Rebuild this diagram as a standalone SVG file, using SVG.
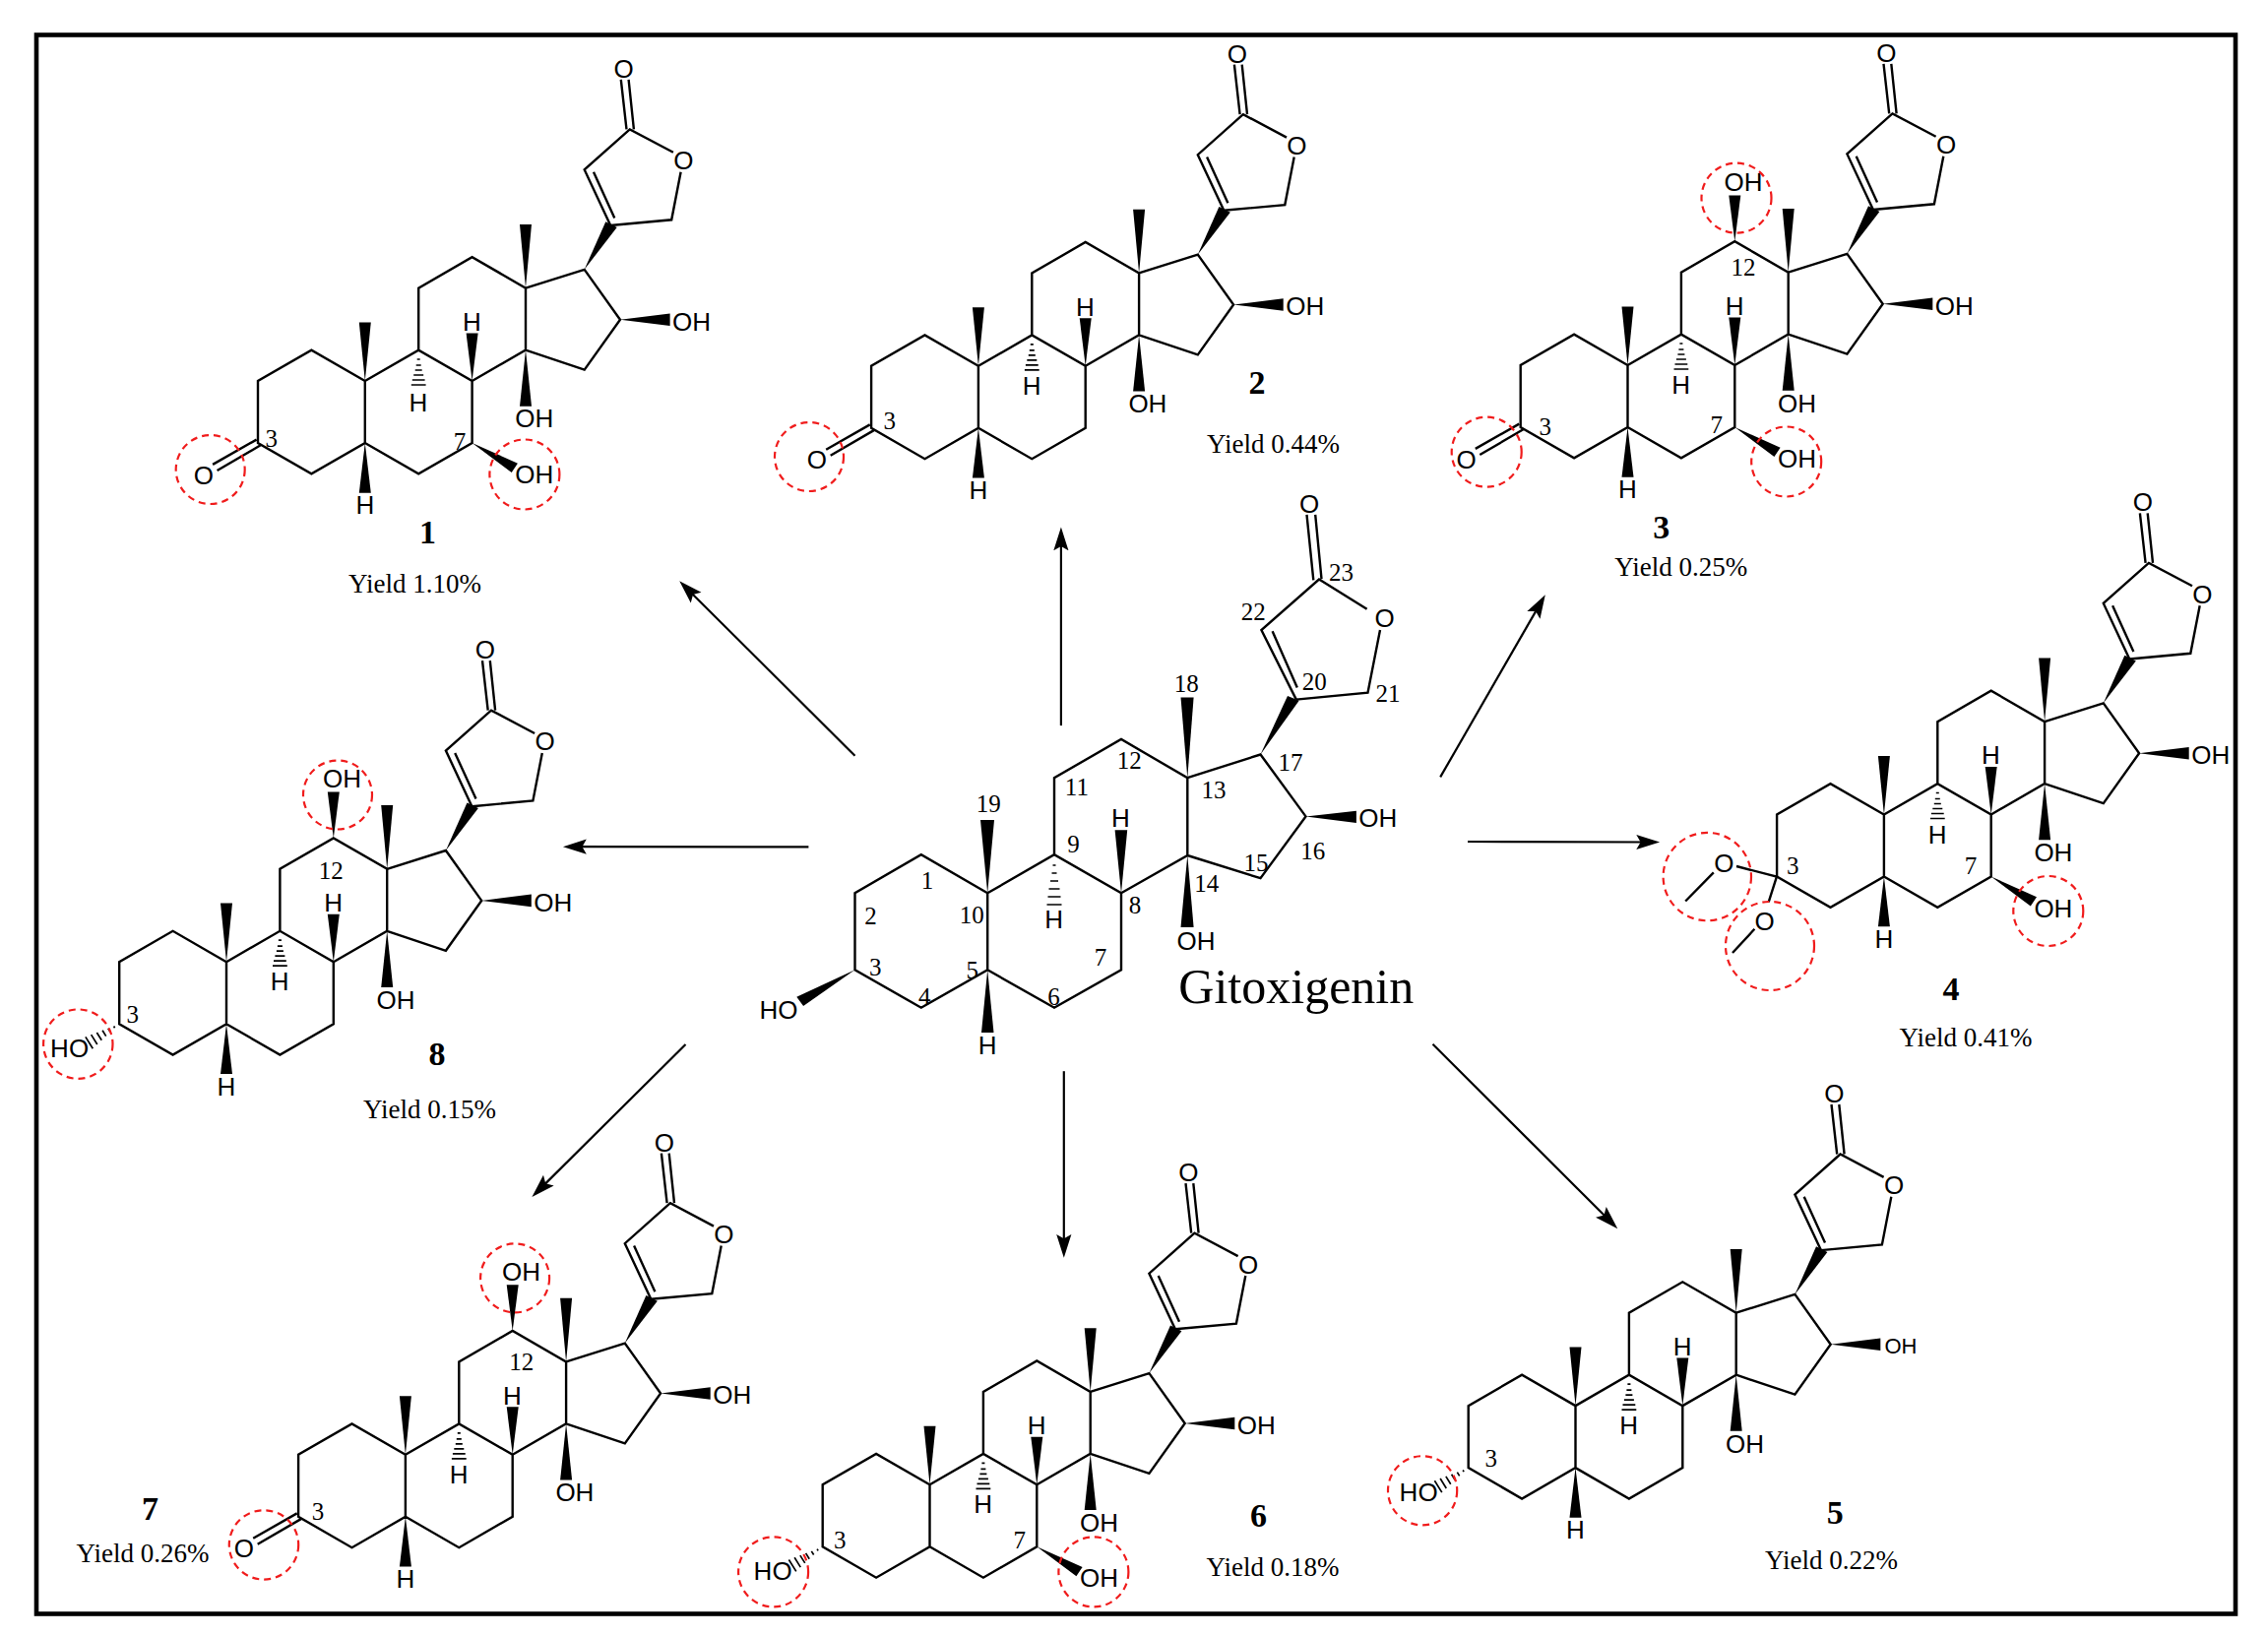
<svg xmlns="http://www.w3.org/2000/svg" xmlns:xlink="http://www.w3.org/1999/xlink" width="2304" height="1662" viewBox="0 0 2304 1662">
<style>
.b{fill:none;stroke:#000;stroke-width:2.4;stroke-linejoin:miter}
.w{fill:#000;stroke:none}
.h{fill:none;stroke:#000;stroke-width:1.7}
.a{font-family:"Liberation Sans",Arial,sans-serif;font-size:26px;text-anchor:middle;fill:#000}
.s{font-size:22px}
.n{font-family:"Liberation Serif","Times New Roman",serif;font-size:25px;text-anchor:middle;fill:#000}
.c{font-family:"Liberation Serif","Times New Roman",serif;font-size:34px;font-weight:bold;text-anchor:middle;fill:#000}
.y{font-family:"Liberation Serif","Times New Roman",serif;font-size:27px;text-anchor:middle;fill:#000}
.t{font-family:"Liberation Serif","Times New Roman",serif;font-size:50px;text-anchor:middle;fill:#000}
.r{fill:none;stroke:#f01c1c;stroke-width:2.2;stroke-dasharray:7 5}
.ar{fill:none;stroke:#000;stroke-width:2.2;marker-end:url(#arrow)}
.frame{fill:none;stroke:#000;stroke-width:4.6}
</style>
<defs>
<marker id="arrow" markerUnits="userSpaceOnUse" markerWidth="26" markerHeight="18" viewBox="0 0 24 16" refX="12" refY="8" orient="auto">
<path d="M0 1 L22 8 L0 15 L4 8 Z" fill="#000"/>
</marker>
<g id="skel">
<path class="b" d="M0 0L-54.4-31.4L-108.8 0V63L-54.4 94.4L0 63ZM0 63L54.4 94.4L108.8 63V0L54.4-31.4L0 0M54.4-31.4V-94.4L108.8-125.8L163.2-94.4V-31.4L108.8 0M163.2-94.4L222.9-113.2L259.2-62.3L222.9-11.4L163.2-31.4M249.4-158L222.9-214.6L269-255.6L313.1-232.2M320.8-212.3L311.4-163.7L249.4-158M232.2-212.3L253.5-165.6M260-306.1L265.7-255.6M267.8-306.1L273.1-255.6"/>
<polygon class="w" points="0,0 -6,-59.6 6,-59.6"/>
<polygon class="w" points="163.2,-94.4 157.2,-159.1 169.2,-159.1"/>
<polygon class="w" points="108.8,0 102.8,-48.5 114.8,-48.5"/>
<polygon class="w" points="163.2,-31.4 157.2,25.7 169.2,25.7"/>
<polygon class="w" points="259.2,-62.3 309.8,-68.6 309.8,-56"/>
<polygon class="w" points="222.9,-113.2 244.5,-161.8 255.9,-156.1"/>
<path class="h" d="M52.9-22H55.9M51.9-16H56.9M50.9-11H57.9M49.4-6H59.4M48-1H60.8M47 4H61.8"/>
</g>
<polygon id="wH5" class="w" points="0,63 -6,113.7 6,113.7"/>
<polygon id="wOH7" class="w" points="108.8,63 148.9,93 155.1,83.7"/>
<polygon id="wOH12" class="w" points="108.8,-125.8 102.8,-172.6 114.8,-172.6"/>
<path id="ketone" class="b" d="M-154.7 84.9L-110.2 59.6M-150.2 91L-106.1 65.3"/>
<path id="hashHO" class="h" d="M-113.4 67.05L-114.4 65.35M-117.83 71.27L-120.17 67.53M-122.3 75.4L-125.9 69.6M-126.76 79.61L-131.64 71.79M-131.23 83.83L-137.37 73.97M-135.69 88.05L-143.11 76.15"/>
</defs>

<rect id="frame" class="frame" x="37" y="35.5" width="2234" height="1604"/>

<g id="connectors">
<line class="ar" x1="1077.9" y1="737.1" x2="1077.9" y2="546.3"/>
<line class="ar" x1="868.5" y1="767.8" x2="697.9" y2="598"/>
<line class="ar" x1="821.4" y1="860.3" x2="582.8" y2="860.2"/>
<line class="ar" x1="696.5" y1="1061" x2="548.1" y2="1208.4"/>
<line class="ar" x1="1080.8" y1="1088.2" x2="1080.8" y2="1267"/>
<line class="ar" x1="1455.5" y1="1060.8" x2="1635.6" y2="1240.5"/>
<line class="ar" x1="1491" y1="855" x2="1675.3" y2="855.5"/>
<line class="ar" x1="1463.2" y1="789.4" x2="1564.4" y2="613.6"/>
</g>

<g id="gitoxigenin">
<path class="b" d="M1003.2 907.3L935.8 868.2L868.5 907.3V985.3L935.8 1023.7L1003.2 985.3ZM1003.2 985.3L1071 1023.7L1139 985.3V907.3L1071 868.2L1003.2 907.3M1071 868.2V790.2L1139 751L1206.3 790.2V869L1139 907.3M1206.3 790.2L1280.5 766.5L1326.5 829.4L1280.5 892.2L1206.3 869M1316.8 710.6L1281.4 640L1340 588.6L1388.6 618.8M1402 640L1389.5 703.7L1316.8 710.6M1292.6 641.2L1317.8 698.4M1327.5 522.9L1334.3 589.4M1336.2 522.9L1342.5 588.2"/>
<polygon class="w" points="1003.2,907.3 996,833 1010,833"/>
<polygon class="w" points="1139,907.3 1132.6,843.3 1145.2,843.3"/>
<polygon class="w" points="1206.3,790.2 1199.5,708.6 1212.6,708.6"/>
<polygon class="w" points="1206.3,869 1199.5,942 1212.6,942"/>
<polygon class="w" points="1326.5,829.4 1377.9,823.7 1377.9,835.9"/>
<polygon class="w" points="1003.2,985.3 997,1049 1009.5,1049"/>
<polygon class="w" points="868.5,985.3 809.3,1012.7 816.1,1022"/>
<polygon class="w" points="1280.5,766.5 1308,707 1319.7,711.8"/>
<path class="h" d="M1069.5 879H1072.5M1068.5 887H1073.5M1067 895H1075M1065.5 903H1076.5M1064.5 911H1077.5M1063.5 919H1078.5"/>
<text class="a" x="1330" y="520.8">O</text>
<text class="a" x="1406.5" y="636.8">O</text>
<text class="a" x="1399.7" y="840">OH</text>
<text class="a" x="1215" y="964.5">OH</text>
<text class="a" x="1138.5" y="840">H</text>
<text class="a" x="1070.6" y="943">H</text>
<text class="a" x="1003.2" y="1071.4">H</text>
<text class="a" x="790.9" y="1034.7">HO</text>
<text class="n" x="1004.2" y="825.4">19</text>
<text class="n" x="1205.3" y="703">18</text>
<text class="n" x="1362.4" y="589.6">23</text>
<text class="n" x="1273.2" y="630">22</text>
<text class="n" x="1335.3" y="700.6">20</text>
<text class="n" x="1409.9" y="712.9">21</text>
<text class="n" x="1311" y="783">17</text>
<text class="n" x="1333.8" y="872.9">16</text>
<text class="n" x="1276" y="885">15</text>
<text class="n" x="1225.7" y="905.5">14</text>
<text class="n" x="1233" y="810.8">13</text>
<text class="n" x="1147.2" y="780.6">12</text>
<text class="n" x="1093.9" y="808.4">11</text>
<text class="n" x="1090.5" y="865.5">9</text>
<text class="n" x="1153" y="928.4">8</text>
<text class="n" x="1118" y="981">7</text>
<text class="n" x="1070.6" y="1021">6</text>
<text class="n" x="987.7" y="993.7">5</text>
<text class="n" x="939.2" y="1021">4</text>
<text class="n" x="889.3" y="991.3">3</text>
<text class="n" x="884.5" y="938.6">2</text>
<text class="n" x="942" y="903">1</text>
<text class="n" x="987.2" y="938.2">10</text>
<text class="t" x="1316.8" y="1018.8">Gitoxigenin</text>
</g>

<g id="compound-1">
<g transform="translate(370.8,387)">
<use href="#skel"/><use href="#wH5"/><use href="#wOH7"/><use href="#ketone"/>
<text class="a" x="262.9" y="-308.2">O</text><text class="a" x="323.5" y="-214.8">O</text><text class="a" x="331.8" y="-51.4">OH</text><text class="a" x="172" y="46.5">OH</text><text class="a" x="108.6" y="-51.2">H</text><text class="a" x="54.2" y="30.5">H</text><text class="a" x="0" y="135.4">H</text><text class="a" x="-164" y="104.5">O</text><text class="a" x="172" y="104.2">OH</text>
</g>
<text class="n" x="275.7" y="454.4">3</text><text class="n" x="467" y="457.4">7</text>
<circle class="r" cx="213.7" cy="477" r="35"/><circle class="r" cx="532.9" cy="482" r="35.5"/>
<text class="c" x="434.5" y="552.4">1</text><text class="y" x="421.4" y="602">Yield 1.10%</text>
</g>

<g id="compound-2">
<g transform="translate(993.9,371.8)">
<use href="#skel"/><use href="#wH5"/><use href="#ketone"/>
<text class="a" x="262.9" y="-308.2">O</text><text class="a" x="323.5" y="-214.8">O</text><text class="a" x="331.8" y="-51.4">OH</text><text class="a" x="172" y="47.5">OH</text><text class="a" x="108.6" y="-51.2">H</text><text class="a" x="54.2" y="29">H</text><text class="a" x="0" y="135.4">H</text><text class="a" x="-164" y="104.5">O</text>
</g>
<text class="n" x="903.7" y="436.4">3</text>
<circle class="r" cx="822" cy="464" r="35"/>
<text class="c" x="1277.1" y="400.4">2</text><text class="y" x="1293.5" y="460">Yield 0.44%</text>
</g>

<g id="compound-3">
<g transform="translate(1653.5,371)">
<use href="#skel"/><use href="#wH5"/><use href="#wOH7"/><use href="#wOH12"/><use href="#ketone"/>
<text class="a" x="262.9" y="-308.2">O</text><text class="a" x="323.5" y="-214.8">O</text><text class="a" x="331.8" y="-51.4">OH</text><text class="a" x="172" y="47.5">OH</text><text class="a" x="108.6" y="-51.2">H</text><text class="a" x="54.2" y="29">H</text><text class="a" x="0" y="135.4">H</text><text class="a" x="-164" y="104.5">O</text><text class="a" x="172" y="104.2">OH</text><text class="a" x="117.6" y="-177">OH</text>
</g>
<text class="n" x="1569.8" y="441.9">3</text><text class="n" x="1743.7" y="439.8">7</text><text class="n" x="1771" y="279.8">12</text>
<circle class="r" cx="1510.2" cy="459.2" r="35.5"/><circle class="r" cx="1814.7" cy="469" r="35.5"/><circle class="r" cx="1764" cy="201.2" r="35.5"/>
<text class="c" x="1687.8" y="546.5">3</text><text class="y" x="1707.8" y="584.5">Yield 0.25%</text>
</g>

<g id="compound-4">
<g transform="translate(1913.9,827.5)">
<use href="#skel"/><use href="#wH5"/><use href="#wOH7"/>
<text class="a" x="262.9" y="-308.2">O</text><text class="a" x="323.5" y="-214.8">O</text><text class="a" x="331.8" y="-51.4">OH</text><text class="a" x="172" y="47.5">OH</text><text class="a" x="108.6" y="-51.2">H</text><text class="a" x="54.2" y="29">H</text><text class="a" x="0" y="135.4">H</text><text class="a" x="172" y="104.2">OH</text>
</g>
<path class="b" d="M1764 880L1804.9 890.6L1796.7 916.3M1740.8 886.4L1712.2 915.5M1782.4 943.8L1760 968"/>
<text class="a" x="1751.4" y="886.2">O</text><text class="a" x="1792.7" y="945.2">O</text>
<text class="n" x="1821.2" y="888.4">3</text><text class="n" x="2002" y="887.9">7</text>
<circle class="r" cx="1734.3" cy="890.6" r="44.7"/><circle class="r" cx="1798" cy="961" r="45"/><circle class="r" cx="2080.8" cy="925.5" r="35.5"/>
<text class="c" x="1982" y="1015.8">4</text><text class="y" x="1997" y="1062.5">Yield 0.41%</text>
</g>

<g id="compound-5">
<g transform="translate(1600.5,1428.1)">
<use href="#skel"/><use href="#wH5"/><use href="#hashHO"/>
<text class="a" x="262.9" y="-308.2">O</text><text class="a" x="323.5" y="-214.8">O</text><text class="a s" x="330.4" y="-53">OH</text><text class="a" x="172" y="47.5">OH</text><text class="a" x="108.6" y="-51.2">H</text><text class="a" x="54.2" y="29">H</text><text class="a" x="0" y="135.4">H</text><text class="a" x="-159.4" y="96.8">HO</text>
</g>
<text class="n" x="1514.7" y="1489.8">3</text>
<circle class="r" cx="1445.1" cy="1514.3" r="35.1"/>
<text class="c" x="1864.3" y="1548">5</text><text class="y" x="1860.6" y="1594.2">Yield 0.22%</text>
</g>

<g id="compound-6">
<g transform="translate(944.5,1508.3)">
<use href="#skel"/><use href="#wOH7"/><use href="#hashHO"/>
<text class="a" x="262.9" y="-308.2">O</text><text class="a" x="323.5" y="-214.8">O</text><text class="a" x="331.8" y="-51.4">OH</text><text class="a" x="172" y="47.5">OH</text><text class="a" x="108.6" y="-51.2">H</text><text class="a" x="54.2" y="29">H</text><text class="a" x="-159.4" y="96.8">HO</text><text class="a" x="172" y="104.2">OH</text>
</g>
<text class="n" x="853.3" y="1572.8">3</text><text class="n" x="1035.8" y="1572.8">7</text>
<circle class="r" cx="785.6" cy="1596.9" r="35.5"/><circle class="r" cx="1110.9" cy="1596.9" r="35.5"/>
<text class="c" x="1278.4" y="1551">6</text><text class="y" x="1293" y="1600.5">Yield 0.18%</text>
</g>

<g id="compound-7">
<g transform="translate(411.9,1477.8)">
<use href="#skel"/><use href="#wH5"/><use href="#wOH12"/><use href="#ketone"/>
<text class="a" x="262.9" y="-308.2">O</text><text class="a" x="323.5" y="-214.8">O</text><text class="a" x="331.8" y="-51.4">OH</text><text class="a" x="172" y="47.5">OH</text><text class="a" x="108.6" y="-51.2">H</text><text class="a" x="54.2" y="29">H</text><text class="a" x="0" y="135.4">H</text><text class="a" x="-164" y="104.5">O</text><text class="a" x="117.6" y="-177">OH</text>
</g>
<text class="n" x="323" y="1544.4">3</text><text class="n" x="529.7" y="1392.2">12</text>
<circle class="r" cx="268" cy="1569.4" r="35.2"/><circle class="r" cx="523.1" cy="1298.4" r="35"/>
<text class="c" x="152.6" y="1544.2">7</text><text class="y" x="145" y="1586.6">Yield 0.26%</text>
</g>

<g id="compound-8">
<g transform="translate(230,977.2)">
<use href="#skel"/><use href="#wH5"/><use href="#wOH12"/><use href="#hashHO"/>
<text class="a" x="262.9" y="-308.2">O</text><text class="a" x="323.5" y="-214.8">O</text><text class="a" x="331.8" y="-51.4">OH</text><text class="a" x="172" y="47.5">OH</text><text class="a" x="108.6" y="-51.2">H</text><text class="a" x="54.2" y="29">H</text><text class="a" x="0" y="135.4">H</text><text class="a" x="-159.4" y="96.8">HO</text><text class="a" x="117.6" y="-177">OH</text>
</g>
<text class="n" x="134.7" y="1038.6">3</text><text class="n" x="336.3" y="893.4">12</text>
<circle class="r" cx="79.3" cy="1060.6" r="35.2"/><circle class="r" cx="343" cy="807.5" r="35"/>
<text class="c" x="443.9" y="1081.6">8</text><text class="y" x="436.4" y="1136.1">Yield 0.15%</text>
</g>
</svg>
